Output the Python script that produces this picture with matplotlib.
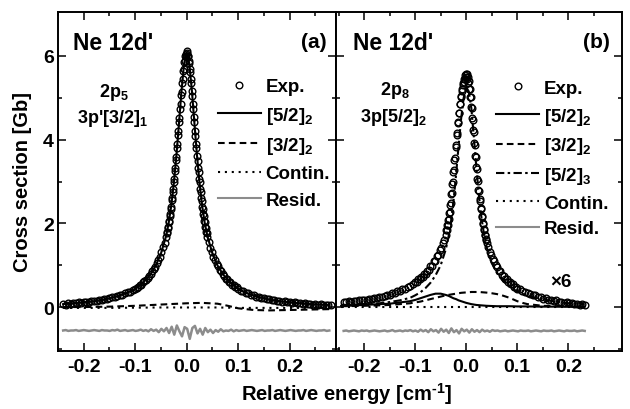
import numpy as np
import matplotlib
matplotlib.use("Agg")
import matplotlib.pyplot as plt
from matplotlib.lines import Line2D

plt.rcParams.update({
    "font.family": "Liberation Sans",
    "font.weight": "bold",
    "axes.unicode_minus": False,
    "mathtext.fontset": "custom",
    "mathtext.rm": "Liberation Sans:bold",
    "mathtext.it": "Liberation Sans:bold:italic",
    "mathtext.bf": "Liberation Sans:bold",
    "mathtext.default": "rm",
})

# ---------------- panel (a): 2p5 -> 3p'[3/2]1 ----------------
# experimental points, read piecewise (each piece evenly spaced in energy)
a_exp_spans = [(-0.240, -0.105), (-0.100, -0.043), (-0.040, 0.040), (0.043, 0.100), (0.105, 0.280)]
a_exp_wing_left = [0.08, 0.06, 0.09, 0.08, 0.10, 0.09, 0.11, 0.10, 0.12, 0.13, 0.12, 0.14, 0.15, 0.14,
                   0.17, 0.16, 0.19, 0.19, 0.22, 0.23, 0.23, 0.26, 0.29, 0.29, 0.33, 0.35, 0.36, 0.41]
a_exp_mid_left = [0.44, 0.45, 0.49, 0.52, 0.53, 0.59, 0.62, 0.64, 0.70, 0.75, 0.78, 0.85, 0.91, 0.96,
                  1.05, 1.13, 1.20, 1.32, 1.43, 1.54]
a_exp_core = [1.68, 1.77, 1.80, 1.89, 1.92, 2.03, 2.06, 2.18, 2.22, 2.35, 2.40, 2.55, 2.60, 2.76,
              2.81, 2.99, 3.05, 3.24, 3.32, 3.51, 3.59, 3.80, 3.89, 4.10, 4.20, 4.42, 4.52, 4.74,
              4.84, 5.06, 5.15, 5.36, 5.44, 5.63, 5.69, 5.85, 5.87, 6.00, 5.99, 6.05,
              6.12,
              6.08, 6.01, 5.99, 5.88, 5.84, 5.70, 5.62, 5.45, 5.35, 5.16, 5.05, 4.85, 4.73, 4.53,
              4.41, 4.21, 4.09, 3.90, 3.79, 3.60, 3.50, 3.33, 3.23, 3.06, 2.98, 2.82, 2.75, 2.60,
              2.54, 2.40, 2.35, 2.22, 2.18, 2.06, 2.03, 1.92, 1.89, 1.79, 1.78, 1.68]
a_exp_mid_right = [1.56, 1.41, 1.32, 1.20, 1.13, 1.03, 0.98, 0.89, 0.85, 0.78, 0.75, 0.68, 0.66, 0.60,
                   0.59, 0.53, 0.52, 0.47, 0.47, 0.42]
a_exp_wing_right = [0.39, 0.38, 0.33, 0.33, 0.29, 0.29, 0.25, 0.25, 0.21, 0.22, 0.19, 0.19, 0.16, 0.17,
                    0.14, 0.15, 0.13, 0.14, 0.11, 0.12, 0.10, 0.11, 0.09, 0.10, 0.08, 0.09, 0.07, 0.08,
                    0.06, 0.07, 0.06, 0.065, 0.05, 0.06, 0.05, 0.05]

# fitted components
a_fit_x = [-0.24, -0.22, -0.2, -0.18, -0.16, -0.14, -0.12, -0.1, -0.085, -0.07, -0.06, -0.05, -0.04,
           -0.035, -0.03, -0.025, -0.02, -0.015, -0.01, -0.005, 0.0, 0.005, 0.01, 0.015, 0.02, 0.025,
           0.03, 0.035, 0.04, 0.05, 0.06, 0.07, 0.085, 0.1, 0.12, 0.14, 0.16, 0.18, 0.2, 0.22, 0.24,
           0.26, 0.277]
a_52_2 = [0.07, 0.09, 0.115, 0.14, 0.18, 0.24, 0.32, 0.43, 0.58, 0.79, 0.99, 1.28, 1.70, 2.01, 2.42,
          2.96, 3.62, 4.39, 5.18, 5.82, 6.08, 5.82, 5.18, 4.39, 3.62, 2.96, 2.42, 2.01, 1.70, 1.28,
          0.99, 0.79, 0.58, 0.43, 0.32, 0.24, 0.18, 0.14, 0.115, 0.09, 0.07, 0.06, 0.05]
a_comp_x = [-0.24, -0.2, -0.15, -0.1, -0.05, 0.0, 0.03, 0.06, 0.08, 0.1, 0.13, 0.16, 0.2, 0.24, 0.277]
a_32_2 = [0.0, 0.0, 0.01, 0.03, 0.06, 0.09, 0.10, 0.08, 0.03, -0.03, -0.07, -0.08, -0.07, -0.06, -0.05]
a_contin = [-0.02, -0.02, -0.02, -0.015, -0.01, -0.01, -0.01, -0.01, -0.015, -0.02, -0.02, -0.02,
            -0.02, -0.02, -0.02]

# residual (offset below zero)
a_resid_span = (-0.240, 0.277)
a_resid = [-0.56, -0.55, -0.57, -0.56, -0.56, -0.55, -0.57, -0.56, -0.55, -0.56, -0.57, -0.56, -0.55,
           -0.56, -0.57, -0.55, -0.56, -0.56, -0.57, -0.55, -0.56, -0.54, -0.57, -0.56, -0.55, -0.57,
           -0.56, -0.55, -0.57,
           -0.56, -0.54, -0.57, -0.55, -0.58, -0.53, -0.57, -0.54, -0.60, -0.52, -0.58,
           -0.50, -0.62, -0.47, -0.66, -0.44, -0.58, -0.70, -0.48, -0.52, -0.76, -0.50, -0.45, -0.63,
           -0.52, -0.66, -0.50, -0.60,
           -0.54, -0.62, -0.55, -0.59, -0.53, -0.58, -0.56, -0.57, -0.54, -0.58, -0.55, -0.57,
           -0.56, -0.55, -0.57, -0.56, -0.55, -0.56, -0.57, -0.56, -0.55, -0.57, -0.56, -0.56, -0.55,
           -0.57, -0.56, -0.55, -0.56, -0.57, -0.56, -0.55, -0.56, -0.57, -0.56, -0.56, -0.55, -0.57,
           -0.56, -0.55, -0.56, -0.57, -0.56, -0.56, -0.55, -0.57, -0.56]

# ---------------- panel (b): 2p8 -> 3p[5/2]2 ----------------
b_exp_spans = [(-0.240, -0.105), (-0.100, -0.043), (-0.040, 0.040), (0.043, 0.100), (0.105, 0.232)]
b_exp_wing_left = [0.13, 0.11, 0.14, 0.12, 0.15, 0.14, 0.16, 0.16, 0.18, 0.18, 0.20, 0.19, 0.22, 0.21,
                   0.24, 0.25, 0.26, 0.29, 0.29, 0.33, 0.33, 0.38, 0.39, 0.43, 0.44, 0.49, 0.51, 0.56]
b_exp_mid_left = [0.60, 0.61, 0.67, 0.66, 0.73, 0.72, 0.79, 0.80, 0.87, 0.88, 0.97, 0.99, 1.09, 1.11,
                  1.21, 1.24, 1.36, 1.40, 1.54, 1.60]
b_exp_core = [1.73, 1.83, 1.84, 1.95, 1.96, 2.09, 2.10, 2.25, 2.27, 2.44, 2.48, 2.69, 2.73, 2.95,
              3.00, 3.23, 3.28, 3.52, 3.57, 3.83, 3.87, 4.12, 4.15, 4.39, 4.41, 4.64, 4.64, 4.86,
              4.84, 5.05, 5.02, 5.21, 5.17, 5.36, 5.30, 5.46, 5.38, 5.55, 5.46, 5.58,
              5.50,
              5.57, 5.44, 5.50, 5.36, 5.39, 5.20, 5.22, 5.01, 5.01, 4.78, 4.76, 4.51, 4.48, 4.22,
              4.18, 3.92, 3.88, 3.62, 3.58, 3.34, 3.30, 3.06, 3.02, 2.80, 2.77, 2.57, 2.54, 2.36,
              2.34, 2.17, 2.15, 2.01, 1.99, 1.86, 1.84, 1.73, 1.72, 1.62, 1.61, 1.52]
b_exp_mid_right = [1.44, 1.31, 1.25, 1.14, 1.10, 1.00, 0.96, 0.87, 0.85, 0.77, 0.75, 0.68, 0.67, 0.60,
                   0.60, 0.54, 0.54, 0.48, 0.48, 0.43]
b_exp_wing_right = [0.43, 0.38, 0.37, 0.33, 0.32, 0.28, 0.28, 0.24, 0.24, 0.20, 0.21, 0.17, 0.18, 0.15,
                    0.16, 0.12, 0.13, 0.10, 0.11, 0.09, 0.10, 0.07, 0.08, 0.06, 0.07, 0.05]

b_fit_x = [-0.245, -0.22, -0.2, -0.17, -0.15, -0.13, -0.11, -0.1, -0.09, -0.08, -0.07, -0.06, -0.05,
           -0.04, -0.035, -0.03, -0.025, -0.02, -0.015, -0.01, -0.005, 0.0, 0.005, 0.01, 0.015, 0.02,
           0.025, 0.03, 0.035, 0.04, 0.05, 0.06, 0.07, 0.085, 0.1, 0.11, 0.12, 0.15, 0.18, 0.2, 0.232]
b_52_2 = [0.03, 0.04, 0.05, 0.07, 0.08, 0.11, 0.14, 0.17, 0.21, 0.25, 0.29, 0.32, 0.32, 0.29, 0.27,
          0.24, 0.21, 0.19, 0.16, 0.14, 0.12, 0.10, 0.085, 0.07, 0.06, 0.05, 0.045, 0.04, 0.035, 0.03,
          0.025, 0.02, 0.02, 0.02, 0.015, 0.015, 0.015, 0.01, 0.01, 0.01, 0.01]
b_32_2 = [0.02, 0.025, 0.03, 0.04, 0.05, 0.07, 0.09, 0.11, 0.13, 0.16, 0.19, 0.22, 0.25, 0.28, 0.29,
          0.30, 0.31, 0.32, 0.33, 0.34, 0.345, 0.35, 0.355, 0.36, 0.36, 0.36, 0.36, 0.355, 0.35, 0.345,
          0.33, 0.31, 0.28, 0.22, 0.14, 0.10, 0.07, 0.03, 0.02, 0.015, 0.01]
b_52_3 = [0.05, 0.06, 0.07, 0.09, 0.12, 0.16, 0.22, 0.28, 0.35, 0.45, 0.58, 0.76, 1.00, 1.38, 1.66,
          2.02, 2.52, 3.15, 3.85, 4.50, 5.00, 5.25, 5.15, 4.75, 4.05, 3.30, 2.65, 2.12, 1.72, 1.43,
          1.05, 0.82, 0.65, 0.48, 0.37, 0.32, 0.27, 0.18, 0.12, 0.09, 0.07]
b_contin_x = [-0.245, 0.232]
b_contin = [0.0, 0.0]

b_resid_span = (-0.240, 0.232)
b_resid = [-0.57, -0.56, -0.58, -0.57, -0.56, -0.57, -0.58, -0.56, -0.57, -0.56, -0.58, -0.57, -0.56,
           -0.57, -0.58, -0.57, -0.56, -0.58, -0.57, -0.55, -0.58, -0.57, -0.56, -0.58, -0.56, -0.57,
           -0.55, -0.58,
           -0.56, -0.59, -0.54, -0.58, -0.55, -0.60, -0.53, -0.58, -0.55, -0.61, -0.52, -0.59, -0.54,
           -0.62, -0.51, -0.60, -0.55, -0.63, -0.52, -0.58, -0.54, -0.61, -0.53, -0.59, -0.55, -0.60,
           -0.54, -0.58, -0.56, -0.59, -0.55,
           -0.57, -0.56, -0.58, -0.57, -0.56, -0.58, -0.57, -0.56, -0.57, -0.58, -0.56, -0.57, -0.57,
           -0.56, -0.58, -0.57, -0.56, -0.57, -0.58, -0.56, -0.57, -0.57, -0.56, -0.58, -0.57, -0.56,
           -0.57, -0.58, -0.56, -0.57, -0.57, -0.56, -0.58, -0.57, -0.56, -0.57]

# line styles (dash lengths in units of line width)
DASHED = (0, (3.2, 2.0))
DOTTED = (0, (1.0, 2.3))
DASHDOT = (0, (4.0, 1.6, 1.2, 1.6))
GREY = "#8c8c8c"
FS_TICK = 14
FS_LAB = 14.5
MS = 4.8


def pieces_to_xy(spans, pieces):
    xs, ys = [], []
    for (x0, x1), vals in zip(spans, pieces):
        xs.append(np.linspace(x0, x1, len(vals)))
        ys.append(np.asarray(vals))
    return np.concatenate(xs), np.concatenate(ys)


def style_axes(ax, xlim):
    ax.set_xlim(*xlim)
    ax.set_ylim(-1.05, 7.05)
    ax.set_xticks([-0.2, -0.1, 0.0, 0.1, 0.2])
    ax.set_xticks([-0.25, -0.15, -0.05, 0.05, 0.15, 0.25], minor=True)
    ax.set_xticklabels(["-0.2", "-0.1", "0.0", "0.1", "0.2"])
    ax.set_yticks([0, 2, 4, 6])
    ax.set_yticks([-1, 1, 3, 5], minor=True)
    ax.tick_params(which="both", direction="in", top=True, right=True, width=1.1,
                   labelsize=FS_TICK)
    ax.tick_params(which="major", length=6)
    ax.tick_params(which="minor", length=3)
    ax.tick_params(axis="x", pad=5)
    ax.tick_params(axis="y", pad=3)
    for sp in ax.spines.values():
        sp.set_linewidth(1.4)


def draw_exp(ax, x, y):
    ax.plot(x, y, linestyle="none", marker="o", ms=MS, mfc="none", mec="black", mew=1.0, zorder=3)


def legend_handles(labels_styles):
    handles = [Line2D([], [], linestyle="none", marker="o", ms=MS, mfc="none", mec="black", mew=1.0)]
    for ls, col in labels_styles:
        handles.append(Line2D([], [], linestyle=ls, color=col, lw=1.5))
    return handles


fig = plt.figure(figsize=(6.3, 4.1), dpi=100)
ax_a = fig.add_axes([58 / 630, 1 - 352 / 410, (336 - 58) / 630, 339 / 410])
ax_b = fig.add_axes([336 / 630, 1 - 352 / 410, (622 - 336) / 630, 339 / 410])

# ---- panel (a)
x, y = pieces_to_xy(a_exp_spans, [a_exp_wing_left, a_exp_mid_left, a_exp_core,
                                  a_exp_mid_right, a_exp_wing_right])
ax_a.plot(a_fit_x, a_52_2, color="black", lw=1.5, zorder=2)
ax_a.plot(a_comp_x, a_32_2, color="black", lw=1.5, linestyle=DASHED, zorder=2)
ax_a.plot(a_comp_x, a_contin, color="black", lw=1.5, linestyle=DOTTED, zorder=2)
ax_a.plot(np.linspace(*a_resid_span, len(a_resid)), a_resid, color=GREY, lw=1.8, zorder=2)
draw_exp(ax_a, x, y)
style_axes(ax_a, (-0.25, 0.29))
ax_a.set_ylabel("Cross section [Gb]", fontsize=FS_LAB, fontweight="bold")
ax_a.yaxis.set_label_coords(-0.092, 0.5)

ax_a.text(0.055, 0.945, "Ne 12d'", transform=ax_a.transAxes, ha="left", va="top", fontsize=16.5)
ax_a.text(0.965, 0.94, "(a)", transform=ax_a.transAxes, ha="right", va="top", fontsize=15)
ax_a.text(0.20, 0.765, "2p$_5$", transform=ax_a.transAxes, ha="center", va="center", fontsize=13)
ax_a.text(0.196, 0.69, "3p'[3/2]$_1$", transform=ax_a.transAxes, ha="center", va="center", fontsize=13)

h = legend_handles([("-", "black"), (DASHED, "black"), (DOTTED, "black"), ("-", GREY)])
ax_a.legend(h, ["Exp.", "[5/2]$_2$", "[3/2]$_2$", "Contin.", "Resid."], loc="upper left",
            bbox_to_anchor=(0.575, 0.805), frameon=False, fontsize=13.5, borderpad=0,
            borderaxespad=0, handlelength=2.3, handletextpad=0.25, labelspacing=0.5)

# ---- panel (b)
x, y = pieces_to_xy(b_exp_spans, [b_exp_wing_left, b_exp_mid_left, b_exp_core,
                                  b_exp_mid_right, b_exp_wing_right])
ax_b.plot(b_fit_x, b_52_2, color="black", lw=1.5, zorder=2)
ax_b.plot(b_fit_x, b_32_2, color="black", lw=1.5, linestyle=DASHED, zorder=2)
ax_b.plot(b_fit_x, b_52_3, color="black", lw=1.5, linestyle=DASHDOT, zorder=2)
ax_b.plot(b_contin_x, b_contin, color="black", lw=1.5, linestyle=DOTTED, zorder=2)
ax_b.plot(np.linspace(*b_resid_span, len(b_resid)), b_resid, color=GREY, lw=1.8, zorder=2)
draw_exp(ax_b, x, y)
style_axes(ax_b, (-0.255, 0.305))
ax_b.tick_params(axis="y", labelleft=False)

ax_b.text(0.058, 0.945, "Ne 12d'", transform=ax_b.transAxes, ha="left", va="top", fontsize=16.5)
ax_b.text(0.958, 0.94, "(b)", transform=ax_b.transAxes, ha="right", va="top", fontsize=15)
ax_b.text(0.206, 0.772, "2p$_8$", transform=ax_b.transAxes, ha="center", va="center", fontsize=13)
ax_b.text(0.20, 0.693, "3p[5/2]$_2$", transform=ax_b.transAxes, ha="center", va="center", fontsize=13)
ax_b.text(0.185, 0.62, "\u00d76", ha="center", va="center", fontsize=13.5)

h = legend_handles([("-", "black"), (DASHED, "black"), (DASHDOT, "black"), (DOTTED, "black"),
                    ("-", GREY)])
ax_b.legend(h, ["Exp.", "[5/2]$_2$", "[3/2]$_2$", "[5/2]$_3$", "Contin.", "Resid."],
            loc="upper left", bbox_to_anchor=(0.56, 0.80), frameon=False, fontsize=13.5,
            borderpad=0, borderaxespad=0, handlelength=2.3, handletextpad=0.25, labelspacing=0.46)

fig.text(347 / 630, 0.04, "Relative energy [cm$^{\\text{-}1}$]", ha="center", va="center",
         fontsize=FS_LAB, fontweight="bold")

fig.savefig("out.png", dpi=100)
